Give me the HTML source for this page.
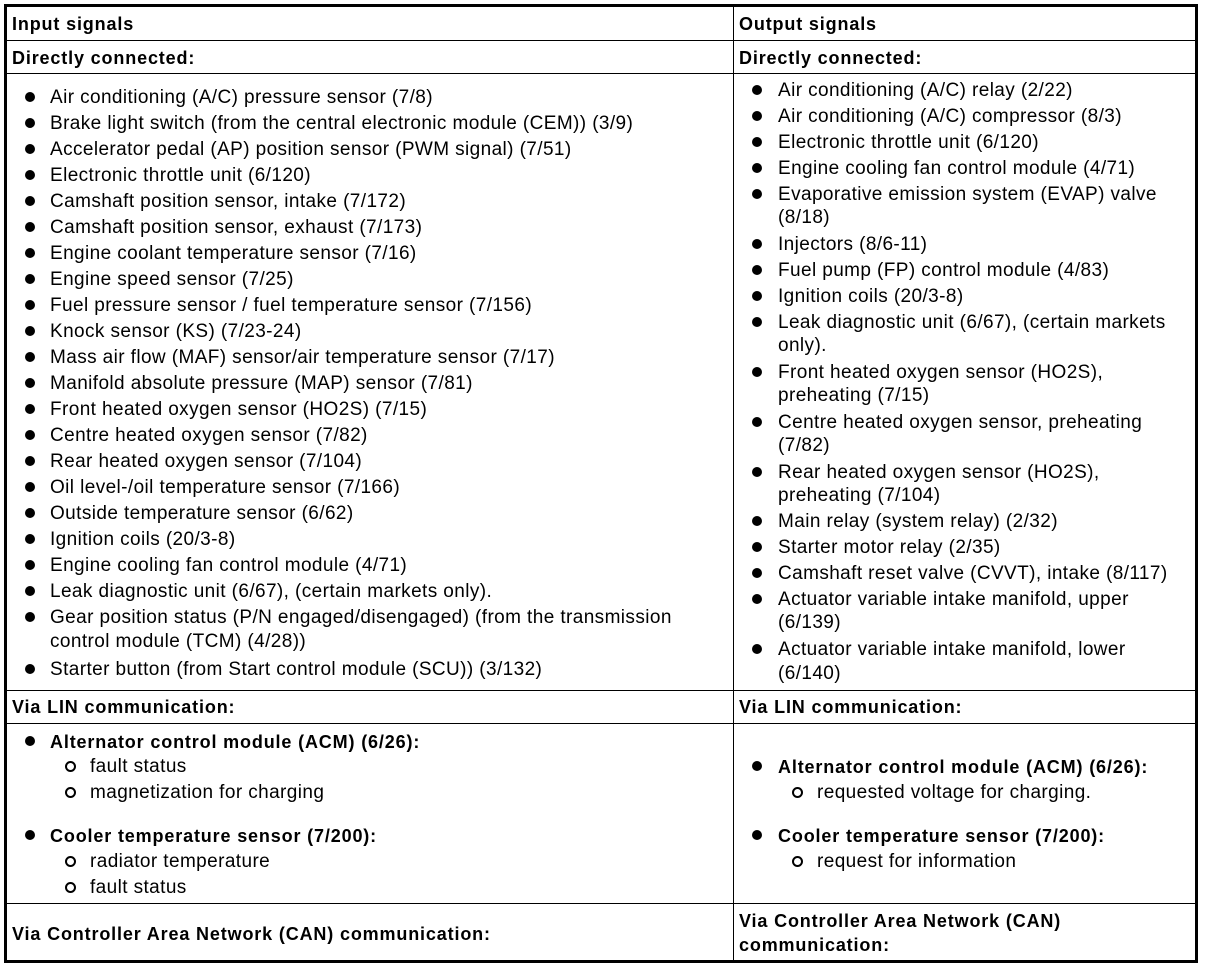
<!DOCTYPE html>
<html><head><meta charset="utf-8"><style>
body{margin:0;width:1216px;height:968px;background:#fff;position:relative;overflow:hidden;font-family:"Liberation Sans",Arial,sans-serif;color:#000}
.l{position:absolute;background:#000}
.t{position:absolute;font-size:19px;letter-spacing:0.4px;line-height:26px;white-space:nowrap;height:26px;margin-top:1px}
.b{font-weight:bold;font-size:18px;letter-spacing:0.85px}
.d{position:absolute;width:10px;height:10px;border-radius:50%;background:#000}
.c{position:absolute;width:7px;height:7px;border-radius:50%;border:2px solid #000;box-sizing:content-box}
</style></head><body>
<div class="l" style="left:4px;top:4px;width:1194px;height:3px"></div>
<div class="l" style="left:4px;top:960px;width:1194px;height:3px"></div>
<div class="l" style="left:4px;top:4px;width:3px;height:959px"></div>
<div class="l" style="left:1195px;top:4px;width:3px;height:959px"></div>
<div class="l" style="left:733px;top:4px;width:1px;height:959px"></div>
<div class="l" style="left:4px;top:40px;width:1194px;height:1px"></div>
<div class="l" style="left:4px;top:73px;width:1194px;height:1px"></div>
<div class="l" style="left:4px;top:690px;width:1194px;height:1px"></div>
<div class="l" style="left:4px;top:723px;width:1194px;height:1px"></div>
<div class="l" style="left:4px;top:903px;width:1194px;height:1px"></div>

<div class="t b" style="left:12px;top:10px">Input signals</div>
<div class="t b" style="left:739px;top:10px">Output signals</div>
<div class="t b" style="left:12px;top:44px">Directly connected:</div>
<div class="t b" style="left:739px;top:44px">Directly connected:</div>
<div class="t b" style="left:12px;top:693px">Via LIN communication:</div>
<div class="t b" style="left:739px;top:693px">Via LIN communication:</div>
<div class="t b" style="left:12px;top:920px">Via Controller Area Network (CAN) communication:</div>
<div class="t b" style="left:739px;top:907px">Via Controller Area Network (CAN)</div>
<div class="t b" style="left:739px;top:931px">communication:</div>

<!-- left list -->
<div class="d" style="left:25px;top:92px"></div><div class="t" style="left:50px;top:84px">Air conditioning (A/C) pressure sensor (7/8)</div>
<div class="d" style="left:25px;top:118px"></div><div class="t" style="left:50px;top:110px">Brake light switch (from the central electronic module (CEM)) (3/9)</div>
<div class="d" style="left:25px;top:144px"></div><div class="t" style="left:50px;top:136px">Accelerator pedal (AP) position sensor (PWM signal) (7/51)</div>
<div class="d" style="left:25px;top:170px"></div><div class="t" style="left:50px;top:162px">Electronic throttle unit (6/120)</div>
<div class="d" style="left:25px;top:196px"></div><div class="t" style="left:50px;top:188px">Camshaft position sensor, intake (7/172)</div>
<div class="d" style="left:25px;top:222px"></div><div class="t" style="left:50px;top:214px">Camshaft position sensor, exhaust (7/173)</div>
<div class="d" style="left:25px;top:248px"></div><div class="t" style="left:50px;top:240px">Engine coolant temperature sensor (7/16)</div>
<div class="d" style="left:25px;top:274px"></div><div class="t" style="left:50px;top:266px">Engine speed sensor (7/25)</div>
<div class="d" style="left:25px;top:300px"></div><div class="t" style="left:50px;top:292px">Fuel pressure sensor / fuel temperature sensor (7/156)</div>
<div class="d" style="left:25px;top:326px"></div><div class="t" style="left:50px;top:318px">Knock sensor (KS) (7/23-24)</div>
<div class="d" style="left:25px;top:352px"></div><div class="t" style="left:50px;top:344px">Mass air flow (MAF) sensor/air temperature sensor (7/17)</div>
<div class="d" style="left:25px;top:378px"></div><div class="t" style="left:50px;top:370px">Manifold absolute pressure (MAP) sensor (7/81)</div>
<div class="d" style="left:25px;top:404px"></div><div class="t" style="left:50px;top:396px">Front heated oxygen sensor (HO2S) (7/15)</div>
<div class="d" style="left:25px;top:430px"></div><div class="t" style="left:50px;top:422px">Centre heated oxygen sensor (7/82)</div>
<div class="d" style="left:25px;top:456px"></div><div class="t" style="left:50px;top:448px">Rear heated oxygen sensor (7/104)</div>
<div class="d" style="left:25px;top:482px"></div><div class="t" style="left:50px;top:474px">Oil level-/oil temperature sensor (7/166)</div>
<div class="d" style="left:25px;top:508px"></div><div class="t" style="left:50px;top:500px">Outside temperature sensor (6/62)</div>
<div class="d" style="left:25px;top:534px"></div><div class="t" style="left:50px;top:526px">Ignition coils (20/3-8)</div>
<div class="d" style="left:25px;top:560px"></div><div class="t" style="left:50px;top:552px">Engine cooling fan control module (4/71)</div>
<div class="d" style="left:25px;top:586px"></div><div class="t" style="left:50px;top:578px">Leak diagnostic unit (6/67), (certain markets only).</div>
<div class="d" style="left:25px;top:612px"></div><div class="t" style="left:50px;top:604px">Gear position status (P/N engaged/disengaged) (from the transmission</div>
<div class="t" style="left:50px;top:628px">control module (TCM) (4/28))</div>
<div class="d" style="left:25px;top:664px"></div><div class="t" style="left:50px;top:656px">Starter button (from Start control module (SCU)) (3/132)</div>

<!-- right list -->
<div class="d" style="left:752px;top:85px"></div><div class="t" style="left:778px;top:77px">Air conditioning (A/C) relay (2/22)</div>
<div class="d" style="left:752px;top:111px"></div><div class="t" style="left:778px;top:103px">Air conditioning (A/C) compressor (8/3)</div>
<div class="d" style="left:752px;top:137px"></div><div class="t" style="left:778px;top:129px">Electronic throttle unit (6/120)</div>
<div class="d" style="left:752px;top:163px"></div><div class="t" style="left:778px;top:155px">Engine cooling fan control module (4/71)</div>
<div class="d" style="left:752px;top:189px"></div><div class="t" style="left:778px;top:181px">Evaporative emission system (EVAP) valve</div>
<div class="t" style="left:778px;top:204px">(8/18)</div>
<div class="d" style="left:752px;top:239px"></div><div class="t" style="left:778px;top:231px">Injectors (8/6-11)</div>
<div class="d" style="left:752px;top:265px"></div><div class="t" style="left:778px;top:257px">Fuel pump (FP) control module (4/83)</div>
<div class="d" style="left:752px;top:291px"></div><div class="t" style="left:778px;top:283px">Ignition coils (20/3-8)</div>
<div class="d" style="left:752px;top:317px"></div><div class="t" style="left:778px;top:309px">Leak diagnostic unit (6/67), (certain markets</div>
<div class="t" style="left:778px;top:332px">only).</div>
<div class="d" style="left:752px;top:367px"></div><div class="t" style="left:778px;top:359px">Front heated oxygen sensor (HO2S),</div>
<div class="t" style="left:778px;top:382px">preheating (7/15)</div>
<div class="d" style="left:752px;top:417px"></div><div class="t" style="left:778px;top:409px">Centre heated oxygen sensor, preheating</div>
<div class="t" style="left:778px;top:432px">(7/82)</div>
<div class="d" style="left:752px;top:467px"></div><div class="t" style="left:778px;top:459px">Rear heated oxygen sensor (HO2S),</div>
<div class="t" style="left:778px;top:482px">preheating (7/104)</div>
<div class="d" style="left:752px;top:516px"></div><div class="t" style="left:778px;top:508px">Main relay (system relay) (2/32)</div>
<div class="d" style="left:752px;top:542px"></div><div class="t" style="left:778px;top:534px">Starter motor relay (2/35)</div>
<div class="d" style="left:752px;top:568px"></div><div class="t" style="left:778px;top:560px">Camshaft reset valve (CVVT), intake (8/117)</div>
<div class="d" style="left:752px;top:594px"></div><div class="t" style="left:778px;top:586px">Actuator variable intake manifold, upper</div>
<div class="t" style="left:778px;top:609px">(6/139)</div>
<div class="d" style="left:752px;top:644px"></div><div class="t" style="left:778px;top:636px">Actuator variable intake manifold, lower</div>
<div class="t" style="left:778px;top:660px">(6/140)</div>

<!-- LIN left -->
<div class="d" style="left:25px;top:736px"></div><div class="t b" style="left:50px;top:728px">Alternator control module (ACM) (6/26):</div>
<div class="c" style="left:65px;top:761px"></div><div class="t" style="left:90px;top:753px">fault status</div>
<div class="c" style="left:65px;top:787px"></div><div class="t" style="left:90px;top:779px">magnetization for charging</div>
<div class="d" style="left:25px;top:830px"></div><div class="t b" style="left:50px;top:822px">Cooler temperature sensor (7/200):</div>
<div class="c" style="left:65px;top:856px"></div><div class="t" style="left:90px;top:848px">radiator temperature</div>
<div class="c" style="left:65px;top:882px"></div><div class="t" style="left:90px;top:874px">fault status</div>

<!-- LIN right -->
<div class="d" style="left:752px;top:761px"></div><div class="t b" style="left:778px;top:753px">Alternator control module (ACM) (6/26):</div>
<div class="c" style="left:792px;top:787px"></div><div class="t" style="left:817px;top:779px">requested voltage for charging.</div>
<div class="d" style="left:752px;top:830px"></div><div class="t b" style="left:778px;top:822px">Cooler temperature sensor (7/200):</div>
<div class="c" style="left:792px;top:856px"></div><div class="t" style="left:817px;top:848px">request for information</div>
</body></html>
